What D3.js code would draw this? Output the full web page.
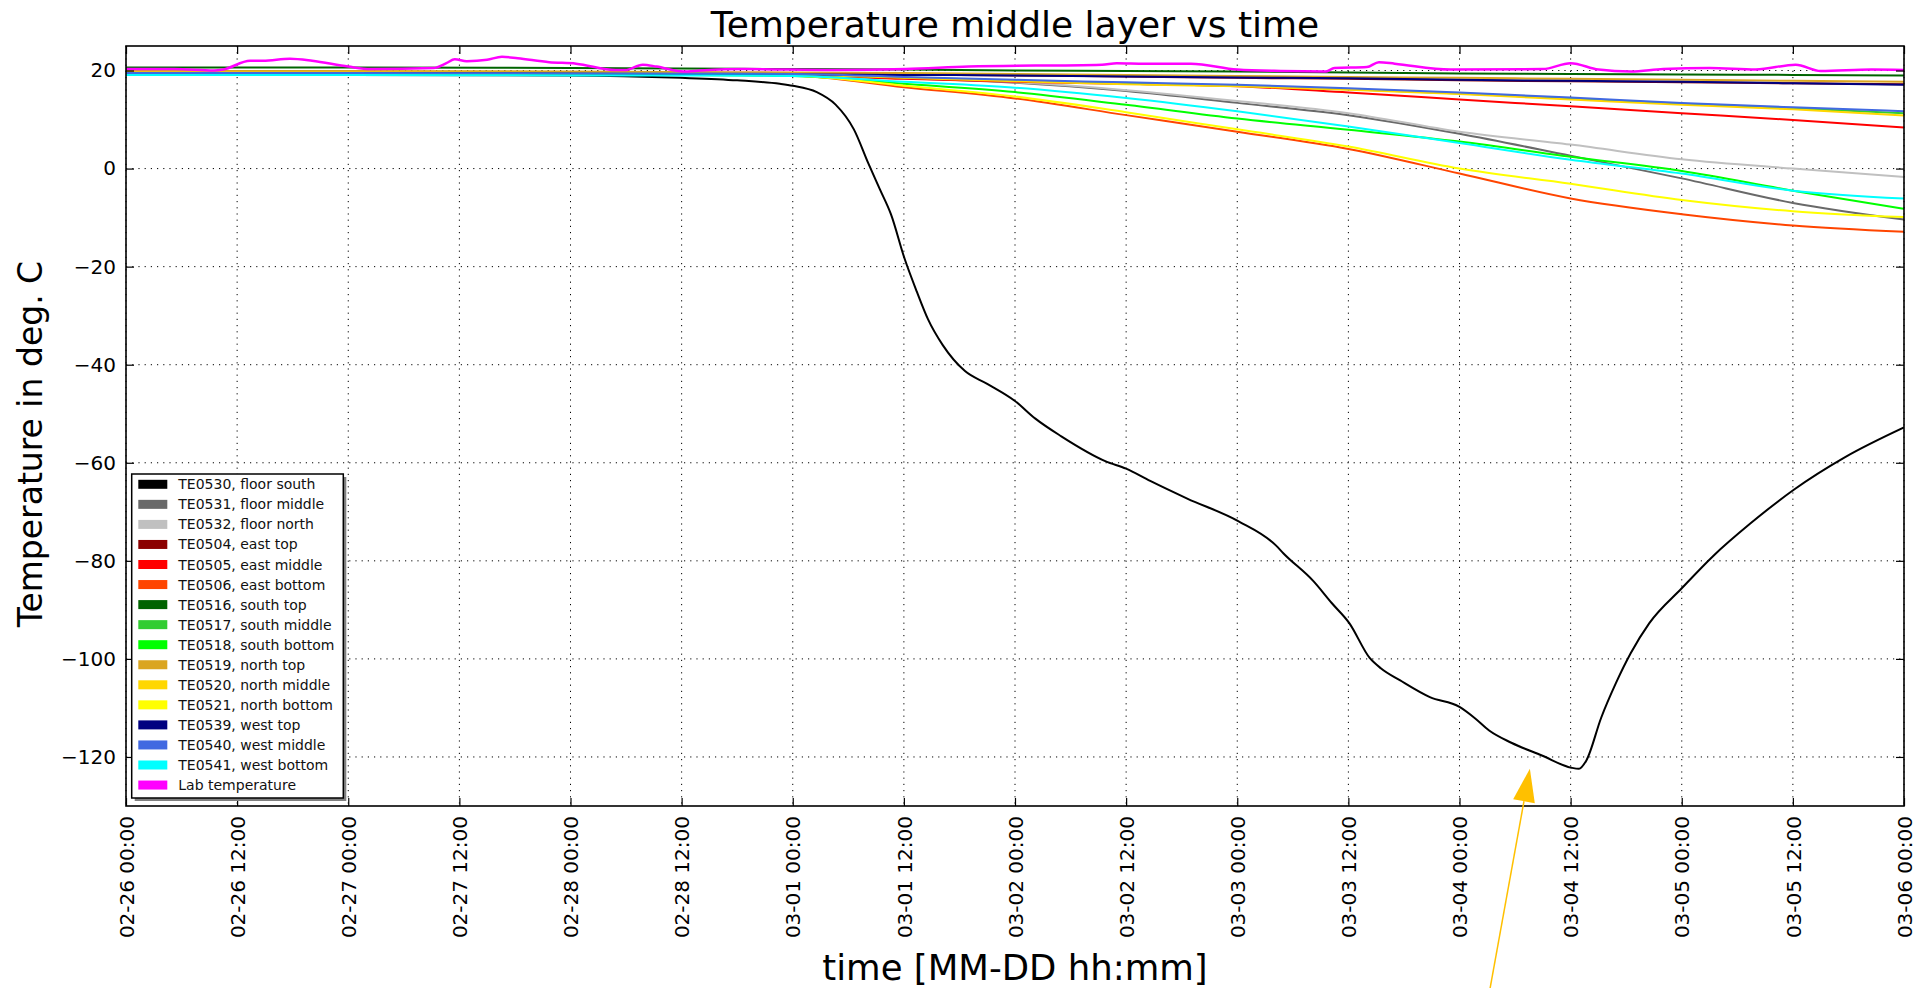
<!DOCTYPE html>
<html>
<head>
<meta charset="utf-8">
<script src="https://cdn.jsdelivr.net/npm/d3@7"></script>
<style>
  body { margin: 0; background: #fff; }
  svg { display: block; font-family: "DejaVu Sans", sans-serif; }
</style>
</head>
<body>
<div id="chart"></div>
<script>
// time is given in hours after 02-26 00:00
var start = new Date(2017, 1, 26, 0, 0);
function toDate(h) { return new Date(start.getTime() + h * 3600 * 1000); }

var names = [
  "TE0530, floor south", "TE0531, floor middle", "TE0532, floor north",
  "TE0504, east top", "TE0505, east middle", "TE0506, east bottom",
  "TE0516, south top", "TE0517, south middle", "TE0518, south bottom",
  "TE0519, north top", "TE0520, north middle", "TE0521, north bottom",
  "TE0539, west top", "TE0540, west middle", "TE0541, west bottom",
  "Lab temperature"
];
var colors = [
  "#000000", "#696969", "#c0c0c0",
  "#8b0000", "#ff0000", "#ff4500",
  "#006400", "#32cd32", "#00ff00",
  "#daa520", "#ffd700", "#ffff00",
  "#000080", "#4169e1", "#00ffff",
  "#ff00ff"
];

// slow sensors, sampled every 12 h (first points 24 h apart)
var slowHours = [0, 24, 48, 60, 72, 84, 96, 108, 120, 132, 144, 156, 168, 180, 192];
var te0531 = [19.4, 19.4, 19.3, 19.2, 19.0, 18.4, 17.5, 15.8, 13.4, 10.9, 7.1, 2.6, -2.0, -7.0, -10.4];
var te0532 = [19.4, 19.4, 19.3, 19.2, 19.0, 18.5, 17.6, 16.0, 13.8, 11.3, 7.5, 4.9, 1.9, 0.0, -1.7];
var te0504 = [19.8, 19.7, 19.6, 19.5, 19.4, 19.2, 19.0, 18.8, 18.5, 18.3, 18.0, 17.8, 17.6, 17.4, 17.2];
var te0505 = [19.6, 19.6, 19.5, 19.4, 19.2, 18.3, 17.7, 17.3, 16.8, 15.5, 14.1, 12.7, 11.3, 9.9, 8.4];
var te0506 = [19.6, 19.5, 19.4, 19.3, 19.0, 16.6, 14.3, 10.9, 7.5, 4.0, -1.0, -6.1, -9.3, -11.6, -12.9];
var te0516 = [20.6, 20.6, 20.5, 20.4, 20.3, 20.2, 20.0, 19.9, 19.8, 19.6, 19.4, 19.3, 19.2, 19.1, 19.0];
var te0517 = [19.6, 19.6, 19.5, 19.4, 19.2, 18.6, 17.9, 17.3, 16.9, 16.2, 15.3, 14.3, 13.2, 12.3, 11.3];
var te0518 = [19.3, 19.3, 19.2, 19.1, 18.9, 17.3, 15.6, 13.0, 10.2, 7.9, 5.5, 2.4, -0.5, -4.5, -8.2];
var te0519 = [19.9, 19.9, 19.8, 19.7, 19.6, 19.5, 19.3, 19.1, 18.9, 18.7, 18.5, 18.3, 18.1, 17.9, 17.7];
var te0520 = [19.6, 19.6, 19.5, 19.4, 19.2, 18.5, 17.8, 17.2, 16.8, 16.1, 15.2, 14.1, 13.0, 12.1, 10.8];
var te0521 = [19.5, 19.5, 19.4, 19.3, 19.0, 16.9, 14.7, 11.5, 8.0, 4.5, 0.0, -3.1, -6.4, -8.7, -9.9];
var te0539 = [19.5, 19.5, 19.4, 19.3, 19.2, 19.1, 19.0, 18.8, 18.6, 18.4, 18.1, 17.9, 17.7, 17.4, 17.1];
var te0540 = [19.5, 19.5, 19.4, 19.4, 19.3, 18.7, 18.1, 17.6, 17.1, 16.4, 15.5, 14.5, 13.4, 12.5, 11.7];
var te0541 = [19.1, 19.1, 19.0, 19.0, 18.9, 17.7, 16.5, 14.4, 11.7, 8.6, 5.2, 1.8, -1.0, -4.5, -6.1];

// floor south, the one that was cooled down
var te0530Hours = [0, 24, 48, 60, 66, 70.6, 72, 74.6, 76.6, 78.6, 80.2, 81.4, 82.6, 84.1, 85.4, 86.6,
  88.2, 90.6, 93, 96, 98.2, 101, 105.8, 108, 110.6, 114.6, 120.1, 124.2, 125, 128.2, 130.2, 132.1,
  134.3, 135.5, 137.6, 140.8, 144, 145.6, 147.2, 149.6, 152.9, 156.1, 156.9, 157.7, 159.3, 160.9,
  162.5, 164.5, 168, 171.4, 175.4, 180.1, 185.6, 192];
var te0530 = [19.2, 19.1, 19.0, 18.5, 18.0, 17.3, 16.9, 15.6, 13.1, 8.0, 0.9, -4.2, -9.3, -18.5, -25.1, -30.7,
  -36.0, -41.3, -43.9, -47.4, -51.0, -54.6, -59.7, -61.2, -63.7, -67.3, -71.9, -76.9, -78.5, -84.1, -88.6, -92.7,
  -99.8, -101.9, -104.4, -107.8, -109.8, -112.0, -114.6, -117.1, -119.7, -122.2, -122.4, -120.7, -112.0, -104.9,
  -98.8, -92.7, -85.6, -79.0, -72.4, -65.5, -58.9, -52.8];

var labHours = [0, 5.2, 9.5, 10.5, 13.4, 14.8, 17.7, 20.1, 24, 26.4, 33.2, 34.6, 35.5, 36.8, 39, 40.6,
  42.3, 45.7, 48.6, 52.9, 53.9, 55.8, 57.3, 60.2, 62, 66.8, 76.5, 84.2, 91, 105.4, 107, 110, 115, 120,
  124.7, 129.5, 130.5, 134, 135.3, 137, 143, 153, 156, 159, 162.5, 166, 171, 176, 180.3, 183, 188.5, 192];
var labTemp = [20.3, 20.3, 20.0, 20.2, 22.0, 22.0, 22.4, 22.0, 20.8, 20.3, 20.5, 21.5, 22.3, 21.9, 22.2, 22.8,
  22.5, 21.7, 21.4, 20.1, 20.1, 21.2, 20.8, 19.8, 20.0, 20.3, 20.1, 20.3, 20.8, 21.2, 21.5, 21.4, 21.4, 20.2,
  19.9, 19.8, 20.5, 20.7, 21.7, 21.4, 20.2, 20.3, 21.5, 20.2, 19.8, 20.3, 20.5, 20.2, 21.2, 19.9, 20.2, 20.1];

// same order as the legend
var seriesHours = [te0530Hours, slowHours, slowHours, slowHours, slowHours, slowHours, slowHours, slowHours,
  slowHours, slowHours, slowHours, slowHours, slowHours, slowHours, slowHours, labHours];
var seriesValues = [te0530, te0531, te0532, te0504, te0505, te0506, te0516, te0517, te0518,
  te0519, te0520, te0521, te0539, te0540, te0541, labTemp];

// arrow drawn on the figure (hours, deg C)
var arrowTail = [147.3, -167.2], arrowTip = [151.6, -122.4];

var margin = {top: 46, right: 22, bottom: 182, left: 126},
    width = 1926 - margin.left - margin.right,
    height = 988 - margin.top - margin.bottom;

var root = d3.select("#chart")
  .append("svg")
    .attr("width", 1926)
    .attr("height", 988);
var svg = root.append("g")
    .attr("transform", "translate(" + margin.left + "," + margin.top + ")");

var x = d3.scaleTime()
  .domain([toDate(0), toDate(192)])
  .range([0, width]);
var y = d3.scaleLinear()
  .domain([-130, 25])
  .range([height, 0]);

var xTicks = d3.timeHour.every(12).range(toDate(0), toDate(192.01));
var yTicks = d3.range(-120, 21, 20);

// dotted grid
svg.append("g").selectAll("line")
  .data(xTicks).enter().append("line")
    .attr("x1", function(d) { return x(d); })
    .attr("x2", function(d) { return x(d); })
    .attr("y1", 0).attr("y2", height)
    .attr("stroke", "#000").attr("stroke-width", 1)
    .attr("stroke-dasharray", "1.2,5");
svg.append("g").selectAll("line")
  .data(yTicks).enter().append("line")
    .attr("x1", 0).attr("x2", width)
    .attr("y1", function(d) { return y(d); })
    .attr("y2", function(d) { return y(d); })
    .attr("stroke", "#000").attr("stroke-width", 1)
    .attr("stroke-dasharray", "1.2,5");

svg.append("clipPath").attr("id", "clip")
  .append("rect").attr("width", width).attr("height", height);

var line = d3.line()
  .x(function(d) { return x(toDate(d[0])); })
  .y(function(d) { return y(d[1]); })
  .curve(d3.curveMonotoneX);

var plot = svg.append("g").attr("clip-path", "url(#clip)");
seriesValues.forEach(function(vals, i) {
  var pts = vals.map(function(v, j) { return [seriesHours[i][j], v]; });
  plot.append("path")
    .datum(pts)
    .attr("fill", "none")
    .attr("stroke", colors[i])
    .attr("stroke-width", i == 15 ? 2.5 : 2)
    .attr("d", line);
});

// axes, ticks pointing inwards on all four sides
var xAxis = svg.append("g")
  .attr("transform", "translate(0," + height + ")")
  .call(d3.axisBottom(x).tickValues(xTicks).tickFormat(d3.timeFormat("%m-%d %H:%M"))
    .tickSizeInner(-8).tickSizeOuter(0));
xAxis.selectAll("text")
  .attr("transform", "rotate(-90)")
  .attr("text-anchor", "end")
  .attr("x", -10).attr("y", 0).attr("dy", "0.36em");
svg.append("g")
  .call(d3.axisTop(x).tickValues(xTicks).tickFormat("").tickSizeInner(-8).tickSizeOuter(0));
var yAxis = svg.append("g")
  .call(d3.axisLeft(y).tickValues(yTicks).tickSizeInner(-8).tickSizeOuter(0).tickPadding(10));
svg.append("g")
  .attr("transform", "translate(" + width + ",0)")
  .call(d3.axisRight(y).tickValues(yTicks).tickFormat("").tickSizeInner(-8).tickSizeOuter(0));

svg.selectAll(".domain").remove();
svg.selectAll(".tick line").attr("stroke", "#000").attr("stroke-width", 1.2);
svg.selectAll(".tick text")
  .attr("fill", "#000")
  .style("font-family", "DejaVu Sans")
  .style("font-size", "20px");

svg.append("rect")
  .attr("width", width).attr("height", height)
  .attr("fill", "none").attr("stroke", "#000").attr("stroke-width", 1.6);

// legend with shadow
var legend = svg.append("g").attr("transform", "translate(5.7,428)");
legend.append("rect")
  .attr("x", 3).attr("y", 3).attr("width", 211.6).attr("height", 324)
  .attr("fill", "#808080");
legend.append("rect")
  .attr("width", 211.6).attr("height", 324)
  .attr("fill", "#fff").attr("stroke", "#000").attr("stroke-width", 1.5);
var rows = legend.selectAll("g.row")
  .data(names).enter().append("g")
    .attr("class", "row")
    .attr("transform", function(d, i) { return "translate(0," + (10.3 + i * 20.05) + ")"; });
rows.append("rect")
  .attr("x", 6.6).attr("y", -4.5).attr("width", 29).attr("height", 9)
  .attr("fill", function(d, i) { return colors[i]; });
rows.append("text")
  .attr("x", 46.6).attr("y", 5)
  .style("font-size", "14px")
  .attr("fill", "#111")
  .text(function(d) { return d; });

// titles
svg.append("text")
  .attr("x", width / 2).attr("y", -9)
  .attr("text-anchor", "middle")
  .style("font-size", "36px")
  .text("Temperature middle layer vs time");
svg.append("text")
  .attr("x", width / 2).attr("y", 934)
  .attr("text-anchor", "middle")
  .style("font-size", "35.5px")
  .text("time [MM-DD hh:mm]");
svg.append("text")
  .attr("transform", "translate(-84,398) rotate(-90)")
  .attr("text-anchor", "middle")
  .style("font-size", "33px")
  .text("Temperature in deg. C");

// yellow arrow pointing at the minimum
var tx = x(toDate(arrowTip[0])), ty = y(arrowTip[1]);
var sx = x(toDate(arrowTail[0])), sy = y(arrowTail[1]);
var len = Math.sqrt((tx - sx) * (tx - sx) + (ty - sy) * (ty - sy));
var ux = (tx - sx) / len, uy = (ty - sy) / len;
var headLen = 33, headHalf = 11;
var bx = tx - ux * headLen, by = ty - uy * headLen;
svg.append("line")
  .attr("x1", sx).attr("y1", sy).attr("x2", bx).attr("y2", by)
  .attr("stroke", "#ffc000").attr("stroke-width", 1.5);
svg.append("polygon")
  .attr("points", [[tx, ty], [bx - uy * headHalf, by + ux * headHalf], [bx + uy * headHalf, by - ux * headHalf]]
    .map(function(p) { return p.join(","); }).join(" "))
  .attr("fill", "#ffc000");
</script>
</body>
</html>
